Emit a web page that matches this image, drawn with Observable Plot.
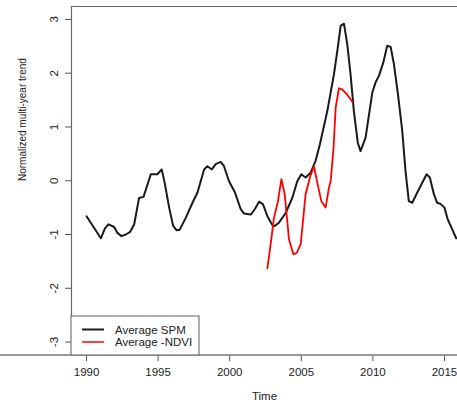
<!DOCTYPE html>
<html><head><meta charset="utf-8">
<script src="https://cdn.jsdelivr.net/npm/d3@7"></script>
<script src="https://cdn.jsdelivr.net/npm/@observablehq/plot@0.6"></script>
<style>body{margin:0;background:#fff}#chart{position:relative;width:457px;height:404px}</style>
</head><body><div id="chart"></div>
<script>
const xTicks = [1990, 1995, 2000, 2005, 2010, 2015];
const yTicks = [-3, -2, -1, 0, 1, 2, 3];
const seriesNames = ["Average SPM", "Average -NDVI"];
const seriesColors = ["#1a1a1a", "#ff0000"];

const spmYear = [1990.0,1991.0,1991.28,1991.53,1991.93,1992.16,1992.44,1992.74,1993.05,1993.33,1993.67,1993.98,1994.49,1994.95,1995.25,1995.46,1995.77,1996.05,1996.28,1996.51,1996.93,1997.40,1997.75,1998.21,1998.44,1998.75,1999.02,1999.37,1999.60,1999.95,2000.37,2000.77,2001.00,2001.47,2001.75,2002.05,2002.33,2002.63,2003.02,2003.14,2003.44,2003.91,2004.37,2004.72,2005.00,2005.30,2005.65,2006.00,2006.30,2006.82,2007.28,2007.52,2007.75,2007.98,2008.21,2008.44,2008.67,2008.95,2009.14,2009.49,2009.96,2010.19,2010.42,2010.73,2011.00,2011.24,2011.47,2011.75,2012.05,2012.28,2012.51,2012.75,2013.10,2013.75,2013.98,2014.26,2014.49,2014.72,2015.00,2015.23,2015.82];
const spmValue = [-0.66,-1.07,-0.89,-0.81,-0.86,-0.97,-1.03,-1.00,-0.95,-0.81,-0.32,-0.30,0.12,0.12,0.21,-0.04,-0.50,-0.84,-0.92,-0.91,-0.69,-0.41,-0.22,0.21,0.27,0.21,0.31,0.35,0.27,-0.01,-0.22,-0.53,-0.61,-0.63,-0.53,-0.39,-0.44,-0.66,-0.84,-0.84,-0.78,-0.60,-0.32,-0.01,0.12,0.06,0.15,0.37,0.68,1.30,1.98,2.42,2.88,2.92,2.54,1.98,1.30,0.70,0.55,0.80,1.64,1.83,1.95,2.20,2.51,2.49,2.17,1.61,0.93,0.18,-0.38,-0.41,-0.22,0.12,0.06,-0.25,-0.41,-0.43,-0.50,-0.72,-1.07];

const ndviYear = [2002.63,2002.86,2003.09,2003.37,2003.61,2003.84,2004.14,2004.45,2004.68,2004.96,2005.30,2005.60,2005.88,2006.12,2006.40,2006.70,2006.93,2007.05,2007.25,2007.40,2007.63,2007.86,2008.21,2008.56];
const ndviValue = [-1.63,-1.18,-0.69,-0.38,0.03,-0.25,-1.09,-1.37,-1.34,-1.18,-0.25,0.06,0.27,-0.04,-0.38,-0.50,-0.13,-0.01,0.60,1.36,1.72,1.70,1.60,1.47];

const xDomain = [1988.95, 2015.91];
const yDomain = [-3.25, 3.24];

const spm = spmYear.map((x, i) => ({x, y: spmValue[i]}));
const ndvi = ndviYear.map((x, i) => ({x, y: ndviValue[i]}));

const font = "'Liberation Sans', Arial, sans-serif";
const plot = Plot.plot({
  width: 457, height: 404,
  marginLeft: 71, marginRight: 0, marginTop: 6, marginBottom: 49,
  style: {fontFamily: font, fontSize: "11.5px", color: "#222", background: "#fff"},
  x: {domain: xDomain},
  y: {domain: yDomain},
  marks: [
    Plot.ruleX([xDomain[0]], {stroke: "#666", strokeWidth: 1.2}),
    Plot.ruleY([yDomain[1]], {stroke: "#666", strokeWidth: 1.2}),
    Plot.axisX({ticks: xTicks, tickFormat: d => String(d), tickSize: 6, tickPadding: 6, stroke: "#555",
      label: "Time", labelAnchor: "center", labelArrow: "none", labelOffset: 44, fontSize: 11.5}),
    Plot.axisY({ticks: yTicks, tickFormat: d => String(d), tickSize: 6, tickPadding: 8, tickRotate: -90, stroke: "#555",
      label: null}),
    Plot.text(["Normalized multi-year trend"], {frameAnchor: "left", dx: -49, rotate: -90, fontSize: 10, fill: "#222", text: d => d}),
    Plot.line(spm, {x: "x", y: "y", stroke: seriesColors[0], strokeWidth: 2, strokeLinejoin: "round"}),
    Plot.line(ndvi, {x: "x", y: "y", stroke: seriesColors[1], strokeWidth: 1.8, strokeLinejoin: "round"})
  ]
});
document.getElementById("chart").appendChild(plot);

const svg = d3.select(plot);
svg.append("line").attr("x1", 0).attr("x2", 457).attr("y1", 355).attr("y2", 355).attr("stroke", "#777").attr("stroke-width", 1.5);
const lg = svg.append("g").attr("text-anchor", "start");
lg.append("rect").attr("x", 71).attr("y", 316).attr("width", 128).attr("height", 39)
  .attr("fill", "#fff").attr("stroke", "#777").attr("stroke-width", 1.2);
seriesNames.forEach((name, i) => {
  const y = 329.5 + i * 12.5;
  lg.append("line").attr("x1", 82).attr("x2", 104).attr("y1", y).attr("y2", y)
    .attr("stroke", seriesColors[i]).attr("stroke-width", i ? 1.5 : 2);
  lg.append("text").attr("x", 115).attr("y", y).attr("dy", "0.35em").attr("text-anchor", "start")
    .attr("font-family", font).attr("font-size", 11.5).attr("fill", "#222").text(name);
});
</script></body></html>
